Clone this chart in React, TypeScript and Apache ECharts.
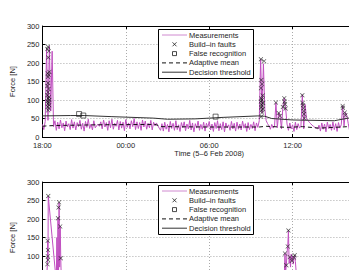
import React, { useEffect, useRef } from "react";
import * as echarts from "echarts";

// ---- tick labels / legend texts ----
const xTickLabels = ["18:00", "00:00", "06:00", "12:00", "18:00"];
const legendLabels = ["Measurements", "Build–in faults", "False recognition", "Adaptive mean", "Decision threshold"];

// ---- TOP panel: measurements, sampled every 0.1 h (hours since 18:00) ----
const STEP = 0.1;
const topSegA = [34, 20, 42]; // from 0.0 h
const topSpike1 = [240, 45, 246, 70, 232, 28]; // from 0.3 h
const topNoise1 = [44, 18, 40, 22, 46, 25, 38, 17, 43, 27, 36, 20, 47, 24, 41, 19, 39, 28, 45, 21, 37, 16, 42, 26, 48, 23, 35, 19, 44, 25]; // from 0.9
const topQuiet = [30, 35, 29]; // from 3.9
const topNoise2 = [41, 22, 46, 27, 39, 18, 44, 25, 48, 21, 37, 29, 45, 19, 42, 24, 40, 17, 47, 26, 38, 22, 44, 28, 50, 20, 41, 23, 39, 18, 46, 27, 43, 21, 37, 25, 45, 19, 40, 30]; // from 4.2
const topDrop = [38, 31, 24, 18]; // from 8.2
const topNoise3 = [36, 16, 40, 21, 34, 14, 42, 23, 37, 18, 44, 20, 33, 15, 39, 25, 41, 17, 35, 22, 45, 19, 38, 14, 36, 24, 43, 18, 34, 21, 40, 16, 37, 26, 42, 19, 35, 15, 39, 23, 44, 17, 36, 20, 41, 14, 38, 25, 33, 18, 42, 22, 37, 16, 40, 21, 35, 19, 43, 24, 36, 15, 39, 20, 34, 23, 41, 17, 38, 26, 44]; // from 8.6
const topSpike2 = [210, 65, 198, 75]; // from 15.7
const topAfter2 = [44, 36, 30, 21, 34, 24]; // from 16.1
const topSpike3 = [30, 93, 25, 65, 57, 22, 81, 105, 77]; // from 16.7
const topNoise4 = [35, 18, 38, 22, 33, 15, 40, 20, 36, 24, 30]; // from 17.6
const topSpike4 = [114, 22, 88]; // from 18.7
const topSlope = [50, 45, 40, 36, 32, 29, 26, 24, 22]; // from 19.0
const topNoise5 = [32, 16, 38, 21, 35, 14, 40, 23, 34, 18, 41, 20, 36, 15, 39, 24, 33]; // from 19.9
const topSpike5 = [84, 30, 66, 59]; // from 21.6
const topNoise6 = [37, 17, 42, 22, 35, 19, 44, 25, 38, 16, 40, 23, 36, 20, 43, 18, 39, 26, 34, 21, 41]; // from 22.0

const topSegStarts = [0, 0.3, 0.9, 3.9, 4.2, 8.2, 8.6, 15.7, 16.1, 16.7, 17.6, 18.7, 19.0, 19.9, 21.6, 22.0];
const topSegs = [topSegA, topSpike1, topNoise1, topQuiet, topNoise2, topDrop, topNoise3, topSpike2, topAfter2, topSpike3, topNoise4, topSpike4, topSlope, topNoise5, topSpike5, topNoise6];

const topFaultHours = [0.40, 0.36, 0.46, 0.42, 0.38, 0.45, 0.40, 0.50, 0.41, 0.36, 0.45, 0.40, 0.35, 0.46, 0.41, 0.50, 0.36, 0.44, 0.40, 0.49, 0.37, 0.45, 0.41,
  15.72, 15.95, 15.75, 15.80, 15.72, 15.85, 15.75, 15.80, 15.72, 15.88, 15.76, 15.82, 15.74, 15.86, 15.78, 15.80, 15.74,
  16.8, 17.0, 17.1, 17.3, 17.4, 17.42, 17.45, 17.5,
  18.7, 18.72, 18.75, 18.78, 18.8, 18.82, 18.85,
  21.6, 21.62, 21.75, 21.8];
const topFaultValues = [244, 238, 232, 215, 172, 168, 163, 176, 146, 138, 130, 121, 113, 108, 104, 100, 97, 94, 90, 86, 82, 78, 72,
  210, 205, 154, 143, 132, 112, 104, 100, 96, 92, 88, 84, 80, 76, 72, 66, 55,
  93, 65, 57, 81, 105, 95, 89, 77,
  113, 92, 86, 78, 70, 62, 51,
  84, 79, 66, 59];

const topFalseHours = [2.64, 2.94, 12.46];
const topFalseValues = [62, 58, 55];

const topMeanHours = [0, 0.3, 0.9, 4, 8.1, 8.6, 12, 15.6, 16.1, 17.6, 18.7, 19.9, 21.5, 22, 24];
const topMeanValues = [29, 30, 31, 33, 34, 28, 27, 27, 29, 26, 28, 24, 27, 28, 28];

const topThrHours = [0, 2, 3, 5, 8, 9, 11, 13, 15.5, 16, 16.5, 18, 21, 22, 24];
const topThrValues = [57, 58, 58, 55, 51, 48, 49, 53, 57, 56, 50, 46, 44, 51, 50];

// ---- BOTTOM panel ----
const botSeg1 = [32, 44, 22, 38]; // from 0, step 0.1
const botSpike1 = [80, 140, 90, 262]; // from 0.36, step 0.02
const botSpike1b = [30, 150, 40, 202, 50, 245, 70, 180, 94, 35]; // from 1.0, step 0.04
const botNoise1 = [34, 22, 41, 27, 36, 19, 43, 25, 38, 21, 40, 28, 35, 18, 42, 24, 37, 20, 44, 26, 33, 19, 39, 23, 41, 17, 36, 25, 43, 21, 38, 16, 40, 24, 35, 20, 42, 27, 34, 22]; // from 1.5, step 0.4
const botSpike2 = [40, 107, 60, 75, 110, 126, 169, 80, 97, 70, 105, 87, 100, 78, 96, 102, 85, 60, 40]; // from 17.4, step 0.05
const botNoise2 = [36, 21, 42, 25, 38, 18, 40, 24, 35, 20, 43, 26, 37, 22]; // from 18.7, step 0.4

const botSegStarts = [0, 0.36, 1.0, 1.5, 17.4, 18.7];
const botSegSteps = [0.1, 0.02, 0.04, 0.4, 0.05, 0.4];
const botSegs = [botSeg1, botSpike1, botSpike1b, botNoise1, botSpike2, botNoise2];

const botFaultHours = [0.42, 0.38, 0.40, 0.39, 0.40, 0.36, 1.20, 1.12, 1.28, 1.32, 1.16, 17.70, 17.65, 17.45, 17.80, 18.15, 18.10, 17.95, 17.55];
const botFaultValues = [262, 141, 116, 99, 89, 78, 245, 202, 180, 94, 231, 169, 126, 107, 97, 102, 96, 87, 75];

const botFalseHours: number[] = [];
const botFalseValues: number[] = [];

const botMeanHours = [0, 1.5, 6, 12, 17.4, 18.5, 24];
const botMeanValues = [30, 31, 30, 29, 28, 30, 29];
const botThrHours = [0, 3, 8, 12, 16, 20, 24];
const botThrValues = [50, 52, 48, 49, 51, 47, 49];

// ---- helpers ----
const FONT = "Liberation Sans, Arial, sans-serif";
const TXT = "#262626";
const MEAS = "#c050c0";

function segData(starts: number[], steps: number[] | number, segs: number[][]) {
  const out: number[][] = [];
  segs.forEach((vals, s) => {
    const st = Array.isArray(steps) ? steps[s] : steps;
    vals.forEach((v, i) => out.push([Math.round((starts[s] + i * st) * 1000) / 1000, v]));
  });
  return out;
}
const zip = (h: number[], v: number[]) => h.map((x, i) => [x, v[i]]);

const X_PATH = "path://M0,1L1,0L5,4L9,0L10,1L6,5L10,9L9,10L5,6L1,10L0,9L4,5Z";

function panelSeries(g: number, meas: number[][], faults: number[][], falses: number[][], mean: number[][], thr: number[][]) {
  const xi = g * 2;
  const yi = g;
  return [
    { name: legendLabels[0], type: "line", xAxisIndex: xi, yAxisIndex: yi, data: meas, showSymbol: false, symbol: "none", lineStyle: { color: MEAS, width: 1 }, z: 2 },
    { name: legendLabels[3], type: "line", xAxisIndex: xi, yAxisIndex: yi, data: mean, showSymbol: false, symbol: "none", lineStyle: { color: "#111", width: 1, type: [4, 3] }, z: 3 },
    { name: legendLabels[4], type: "line", xAxisIndex: xi, yAxisIndex: yi, data: thr, showSymbol: false, symbol: "none", lineStyle: { color: "#333", width: 1 }, z: 3 },
    { name: legendLabels[1], type: "scatter", xAxisIndex: xi, yAxisIndex: yi, data: faults, symbol: X_PATH, symbolSize: 4.5, itemStyle: { color: "#1a1a1a" }, z: 4 },
    { name: legendLabels[2], type: "scatter", xAxisIndex: xi, yAxisIndex: yi, data: falses, symbol: "rect", symbolSize: 5, itemStyle: { color: "rgba(255,255,255,0)", borderColor: "#1a1a1a", borderWidth: 0.8 }, z: 4 },
  ];
}

function legendGraphic(dy: number) {
  const rows = [35, 44.3, 53.6, 62.9, 72.2].map((r) => r + dy);
  const els: any[] = [
    { type: "rect", z: 100, shape: { x: 158.5, y: 29.5 + dy, width: 95, height: 49 }, style: { fill: "#fff", stroke: "#000", lineWidth: 1 } },
    { type: "line", z: 101, shape: { x1: 162, y1: rows[0], x2: 187, y2: rows[0] }, style: { stroke: "#d08ad0", lineWidth: 1 } },
    { type: "line", z: 101, shape: { x1: 172.5, y1: rows[1] - 2, x2: 176.5, y2: rows[1] + 2 }, style: { stroke: "#1a1a1a", lineWidth: 0.8 } },
    { type: "line", z: 101, shape: { x1: 176.5, y1: rows[1] - 2, x2: 172.5, y2: rows[1] + 2 }, style: { stroke: "#1a1a1a", lineWidth: 0.8 } },
    { type: "rect", z: 101, shape: { x: 172.5, y: rows[2] - 2, width: 4, height: 4 }, style: { fill: "#fff", stroke: "#1a1a1a", lineWidth: 0.8 } },
    { type: "line", z: 101, shape: { x1: 162, y1: rows[3], x2: 187, y2: rows[3] }, style: { stroke: "#111", lineWidth: 1, lineDash: [4, 3] } },
    { type: "line", z: 101, shape: { x1: 162, y1: rows[4], x2: 187, y2: rows[4] }, style: { stroke: "#333", lineWidth: 1 } },
  ];
  legendLabels.forEach((t, i) => {
    els.push({ type: "text", z: 101, x: 189, y: rows[i], style: { text: t, fill: TXT, fontSize: 7.5, fontFamily: FONT, verticalAlign: "middle", align: "left" } });
  });
  return els;
}

// visibleLabels: the bottom panel's x labels lie below the picture's edge
function xAxes(g: number, visibleLabels: boolean) {
  return [
    {
      type: "value", gridIndex: g, min: 0, max: 24, interval: 6, position: "bottom",
      axisLine: { show: true, onZero: false, lineStyle: { color: "#000", width: 1 } },
      axisTick: { show: true, inside: true, length: 3, lineStyle: { color: "#000" } },
      axisLabel: {
        show: visibleLabels,
        formatter: (v: number) => (v >= 24 ? "" : xTickLabels[Math.round(v / 6)]),
        fontSize: 7.5, color: TXT, fontFamily: FONT, margin: 4,
      },
      splitLine: { show: true, lineStyle: { color: "#aaaaaa", type: [1, 2], width: 1 } },
      name: visibleLabels ? "Time (5–6 Feb 2008)" : "", nameLocation: "middle", nameGap: 12,
      nameTextStyle: { fontSize: 7.5, color: TXT, fontFamily: FONT },
    },
    {
      type: "value", gridIndex: g, min: 0, max: 24, interval: 6, position: "top",
      axisLine: { show: true, onZero: false, lineStyle: { color: "#000", width: 1 } },
      axisTick: { show: true, inside: true, length: 3, lineStyle: { color: "#000" } },
      axisLabel: { show: false },
      splitLine: { show: false },
    },
  ];
}

function yAxis(g: number, minShown: number) {
  return {
    type: "value", gridIndex: g, min: 0, max: 300, interval: 50, position: "left",
    axisLine: { show: true, onZero: false, lineStyle: { color: "#000", width: 1 } },
    axisTick: { show: true, inside: true, length: 3, lineStyle: { color: "#000" } },
    axisLabel: { fontSize: 7.5, color: TXT, fontFamily: FONT, margin: 3, formatter: (v: number) => (v < minShown ? "" : String(v)) },
    splitLine: { show: true, lineStyle: { color: "#aaaaaa", type: [1, 2], width: 1 } },
    name: "Force [N]", nameLocation: "middle", nameGap: 19, nameRotate: 90,
    nameTextStyle: { fontSize: 7.5, color: TXT, fontFamily: FONT },
  };
}

export default function App() {
  const ref = useRef<HTMLDivElement>(null);
  useEffect(() => {
    if (!ref.current) return;
    const chart = echarts.init(ref.current, null, { renderer: "svg" });
    const topMeas = segData(topSegStarts, STEP, topSegs);
    const botMeas = segData(botSegStarts, botSegSteps, botSegs);
    chart.setOption({
      animation: false,
      backgroundColor: "#fff",
      textStyle: { fontFamily: FONT },
      grid: [
        { left: 37, top: 26, width: 339, height: 111 },
        { left: 37, top: 182, width: 339, height: 111 },
      ],
      xAxis: [...xAxes(0, true), ...xAxes(1, false)],
      yAxis: [yAxis(0, 0), yAxis(1, 100)],
      series: [
        ...panelSeries(0, topMeas, zip(topFaultHours, topFaultValues), zip(topFalseHours, topFalseValues), zip(topMeanHours, topMeanValues), zip(topThrHours, topThrValues)),
        ...panelSeries(1, botMeas, zip(botFaultHours, botFaultValues), zip(botFalseHours, botFalseValues), zip(botMeanHours, botMeanValues), zip(botThrHours, botThrValues)),
      ],
      graphic: [...legendGraphic(0), ...legendGraphic(156)],
    });
    return () => chart.dispose();
  }, []);
  return (
    <div style={{ position: "absolute", left: 0, top: 0, width: 349, height: 270, overflow: "hidden", background: "#fff" }}>
      <div ref={ref} style={{ width: 400, height: 330 }} />
    </div>
  );
}
